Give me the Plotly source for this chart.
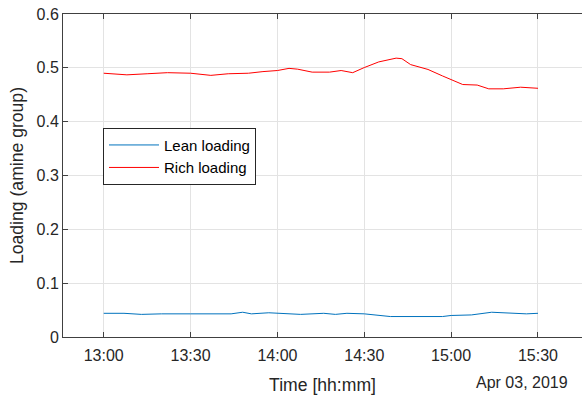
import plotly.graph_objects as go

DAY = "2019-04-03 "

rich_times = ["13:00", "13:04", "13:08", "13:15", "13:22", "13:30", "13:37", "13:43",
              "13:50", "13:55", "14:00", "14:04", "14:07", "14:12", "14:18", "14:22",
              "14:26", "14:30", "14:35", "14:41", "14:43", "14:46", "14:52", "14:57",
              "15:00", "15:04", "15:09", "15:13", "15:18", "15:24", "15:30"]
rich_values = [0.490, 0.488, 0.487, 0.489, 0.491, 0.490, 0.486, 0.489,
               0.490, 0.493, 0.495, 0.499, 0.4975, 0.492, 0.492, 0.495,
               0.491, 0.5005, 0.511, 0.518, 0.517, 0.506, 0.497, 0.485,
               0.478, 0.469, 0.468, 0.461, 0.461, 0.464, 0.462]

lean_times = ["13:00", "13:07", "13:13", "13:20", "13:30", "13:40", "13:44", "13:48",
              "13:51", "13:57", "14:04", "14:08", "14:16", "14:20", "14:24", "14:30",
              "14:39", "14:47", "14:57", "15:00", "15:07", "15:14", "15:19", "15:26", "15:30"]
lean_values = [0.044, 0.044, 0.042, 0.043, 0.043, 0.043, 0.043, 0.046,
               0.043, 0.045, 0.043, 0.042, 0.044, 0.042, 0.044, 0.043,
               0.038, 0.038, 0.038, 0.040, 0.041, 0.046, 0.045, 0.043, 0.044]

y_ticks = [0, 0.1, 0.2, 0.3, 0.4, 0.5, 0.6]
y_range = [0, 0.6]
x_range = ["12:45:56", "15:45:12"]
date_label = "Apr 03, 2019"

FONT = "Liberation Sans, Arial, sans-serif"
TXT = "#262626"
AX = "#404040"

fig = go.Figure()
fig.add_trace(go.Scatter(x=[DAY + t for t in lean_times], y=lean_values, mode="lines",
                         name="Lean loading", line=dict(color="#0072BD", width=1)))
fig.add_trace(go.Scatter(x=[DAY + t for t in rich_times], y=rich_values, mode="lines",
                         name="Rich loading", line=dict(color="#FF0000", width=1)))

axis_common = dict(showline=True, linecolor=AX, linewidth=1,
                   ticks="inside", ticklen=5, tickcolor=AX, automargin=False,
                   showgrid=True, gridcolor="#e3e3e3", gridwidth=1, zeroline=False,
                   tickfont=dict(family=FONT, size=16, color=TXT))

fig.update_layout(
    width=582, height=397,
    margin=dict(l=63, r=0, t=14, b=60),
    paper_bgcolor="white", plot_bgcolor="white",
    font=dict(family=FONT, color=TXT),
    xaxis=dict(type="date", range=[DAY + x_range[0], DAY + x_range[1]],
               tick0=DAY + "13:00", dtick=30 * 60 * 1000, tickformat="%H:%M",
               ticklabelstandoff=4, mirror="ticks",
               title=dict(text="Time [hh:mm]", font=dict(family=FONT, size=17.6, color=TXT), standoff=15),
               **axis_common),
    yaxis=dict(range=y_range, tickvals=y_ticks, tickformat="~g", mirror=False,
               title=dict(text="Loading (amine group)", font=dict(family=FONT, size=17.6, color=TXT), standoff=8),
               **axis_common),
    yaxis2=dict(overlaying="y", side="right", range=y_range, tickvals=y_ticks,
                ticks="inside", ticklen=5, tickcolor=AX, showticklabels=False,
                showline=False, showgrid=False, zeroline=False, automargin=False),
    legend=dict(x=0.0771, y=0.648, xanchor="left", yanchor="top",
                bgcolor="white", bordercolor="#262626", borderwidth=1,
                font=dict(family=FONT, size=15, color="#000000"), itemwidth=50),
    showlegend=True,
)
fig.add_annotation(text=date_label, xref="paper", yref="paper", x=0.977, y=-0.14,
                   xanchor="right", yanchor="middle", showarrow=False,
                   font=dict(family=FONT, size=16, color=TXT))

fig.write_html("out.html", config={"displayModeBar": False},
               post_script="document.body.style.margin='0';document.body.style.overflow='hidden';")
